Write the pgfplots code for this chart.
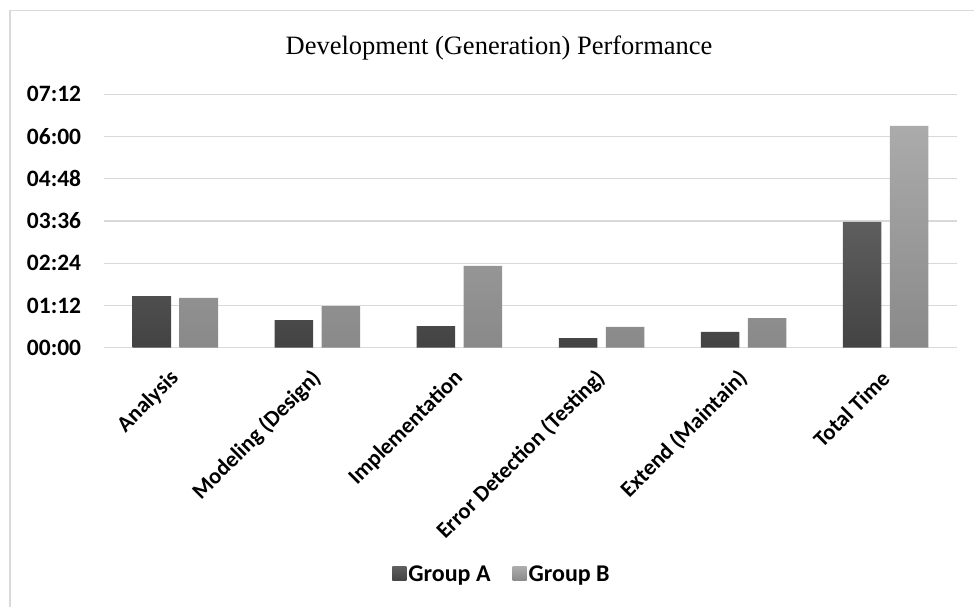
\documentclass[border=0pt]{standalone}
\usepackage{fontspec}
\setmainfont{Carlito}
\newfontfamily\titlefont{Liberation Serif}
\usepackage{pgfplots}
\pgfplotsset{compat=1.18}
\definecolor{gridc}{HTML}{D9D9D9}
\definecolor{aTop}{HTML}{5E5E5E}
\definecolor{aBot}{HTML}{434343}
\definecolor{bTop}{HTML}{ABABAB}
\definecolor{bBot}{HTML}{898989}
\begin{document}
\begin{tikzpicture}
\begin{axis}[
  at={(104.3pt,-347.7pt)}, anchor=south west,
  scale only axis, width=852.4pt, height=253.4pt,
  xmin=-0.5, xmax=5.5, ymin=0, ymax=432,
  ybar=8.5pt, bar width=38.5pt,
  xtick={0,1,2,3,4,5},
  xticklabels={Analysis, Modeling (Design), Implementation, Error Detection (Testing), Extend (Maintain), Total Time},
  ytick={0,72,144,216,288,360,432},
  yticklabels={00:00,01:12,02:24,03:36,04:48,06:00,07:12},
  ymajorgrids, major grid style={gridc, line width=1.4pt},
  axis line style={draw=none}, major tick length=0pt,
  xticklabel style={rotate=45, anchor=east, inner sep=0pt, font=\fontsize{22.5}{27}\selectfont\bfseries},
  xticklabel shift=27pt,
  yticklabel style={anchor=east, inner sep=0pt, font=\fontsize{23.5}{28}\selectfont\bfseries},
  yticklabel shift=23pt,
  legend columns=2,
  legend style={draw=none, fill=none, at={(0.4666,-0.893)}, anchor=center,
    font=\fontsize{24}{28}\selectfont\bfseries,
    /tikz/every even column/.append style={column sep=20pt}},
]
\addplot[draw=none, top color=aTop, bottom color=aBot,
  legend image code/.code={\path[top color=aTop, bottom color=aBot] (-4pt,-7pt) rectangle (10pt,7pt);}]
  coordinates {(0,88) (1,47) (2,37) (3,16.5) (4,27) (5,214.5)};
\addlegendentry{Group A}
\addplot[draw=none, top color=bTop, bottom color=bBot,
  legend image code/.code={\path[top color=bTop, bottom color=bBot] (-4pt,-7pt) rectangle (10pt,7pt);}]
  coordinates {(0,85) (1,71) (2,139.5) (3,35.5) (4,50.5) (5,378)};
\addlegendentry{Group B}
\end{axis}
\draw[gridc, line width=1.5pt] (10pt,-640pt) -- (10pt,-10.7pt) -- (1000pt,-10.7pt);
\node[font=\titlefont\fontsize{26.5}{30}\selectfont, anchor=base, inner sep=0pt] at (499pt,-55pt) {Development (Generation) Performance};
\pgfresetboundingbox
\useasboundingbox (0,0) rectangle (974pt,-607pt);
\end{tikzpicture}
\end{document}
